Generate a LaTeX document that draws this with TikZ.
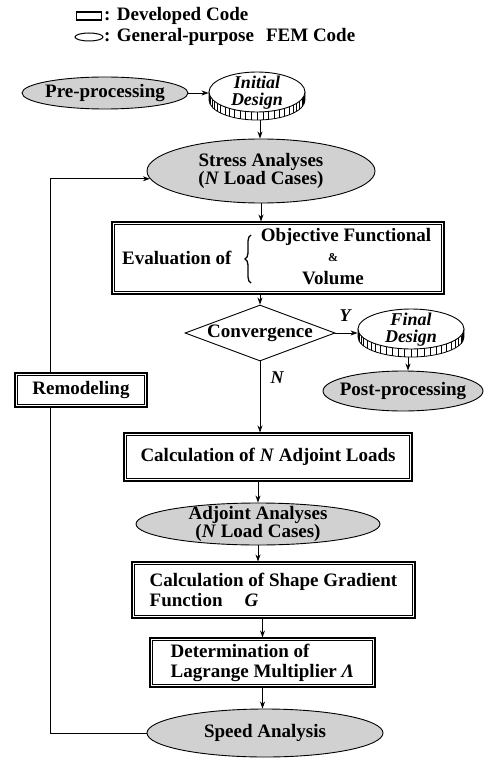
\documentclass[tikz,border=0pt]{standalone}
\usepackage{fontspec}
\setmainfont{Liberation Serif}
\usetikzlibrary{shapes.geometric,arrows.meta,decorations.pathreplacing}
\newcommand{\coinband}[5]{%
  \begin{scope}[shift={(#1,#2)}]
    \draw[line width=0.8pt, fill=white] (-#3,0) -- (-#3,#5) arc[start angle=180, end angle=360, x radius=#3pt, y radius=#4pt] -- (#3,0) -- cycle;
    \foreach \ang in {186,193,...,355} \draw[line width=0.6pt] ({#3*cos(\ang)},{-#4*sin(\ang)}) -- ({#3*cos(\ang)},{-#4*sin(\ang)+#5});
  \end{scope}}
\newcommand{\devinner}[1]{\draw[line width=0.6pt] ([shift={(3,3)}]#1.north west) rectangle ([shift={(-3,-3)}]#1.south east);}
\begin{document}
\begin{tikzpicture}[x=1pt,y=-1pt,
  every node/.style={font=\fontsize{19}{20}\selectfont\bfseries},
  fem/.style={ellipse, draw, fill=black!18, inner sep=0pt, line width=0.9pt},
  dev/.style={rectangle, draw, line width=1.1pt, inner sep=0pt},
  coin/.style={ellipse, draw, fill=white, inner sep=0pt, line width=0.9pt},
  diam/.style={diamond, draw, inner sep=0pt, line width=0.9pt},
  txt/.style={align=center, inner sep=0pt, font=\fontsize{19}{17}\selectfont\bfseries},
  itxt/.style={align=center, inner sep=0pt, font=\fontsize{18}{17}\selectfont\bfseries\itshape},
  arr/.style={-{Stealth[length=7pt,width=5pt]}, line width=0.8pt},
  ln/.style={line width=0.8pt},
]
\useasboundingbox (0,0) rectangle (483,762);

% legend
\node[draw, line width=1.2pt, minimum width=25pt, minimum height=8pt, inner sep=0pt] (legdev) at (89,16) {};
\node[anchor=west, inner sep=0pt] (legdevtxt) at (104,16) {: Developed Code};
\node[ellipse, draw, line width=1pt, minimum width=28pt, minimum height=8pt, inner sep=0pt] (legfem) at (89,37) {};
\node[anchor=west, inner sep=0pt] (legfemtxt) at (104,37) {: General-purpose\hspace{12pt}FEM Code};

% top row
\node[fem, minimum width=166pt, minimum height=32pt] (pre) at (105,93) {};
\node[txt] (pretxt) at (pre) {Pre-processing};
\coinband{257}{92}{48}{20}{8}
\node[coin, minimum width=96pt, minimum height=40pt] (init) at (257,92) {};
\node[itxt] (inittxt) at (257,93) {Initial\\Design};
\draw[arr] (pre.east) -- (pre.east -| init.west);

% stress
\node[fem, minimum width=228pt, minimum height=64pt] (stress) at (261,171) {};
\node[txt] (stresstxt) at (stress) {Stress Analyses\\(\textit{N} Load Cases)};
\coordinate (initbot) at (260,120);
\draw[arr] (initbot) -- (initbot |- stress.north);

% evaluation
\node[dev, minimum width=332pt, minimum height=72pt] (eval) at (278,258) {};
\devinner{eval}
\node[txt, anchor=west] (evaltxt) at (122,258) {Evaluation of};
\draw[line width=1.3pt, decorate, decoration={brace, amplitude=6pt}] (251,283) -- (251,235);
\node[txt] (evalobj) at (346,237) {Objective Functional};
\node[txt, font=\fontsize{12}{12}\selectfont\bfseries] (evalamp) at (333,258) {\&};
\node[txt] (evalvol) at (333,278) {Volume};
\draw[arr] (stress.south) -- (stress.south |- eval.north);

% convergence
\node[diam, minimum width=150pt, minimum height=56pt] (conv) at (260,333) {};
\node[txt] (convtxt) at (conv) {Convergence};
\draw[arr] (eval.south -| conv.north) -- (conv.north);

% final design
\coinband{411}{329}{53}{20}{8}
\node[coin, minimum width=106pt, minimum height=40pt] (fin) at (411,329) {};
\node[itxt] (fintxt) at (411,330) {Final\\Design};
\draw[arr] (conv.east) -- (conv.east -| fin.west);
\node[itxt] (ylab) at (345,316) {Y};

\node[fem, minimum width=160pt, minimum height=40pt] (post) at (403,391) {};
\node[txt] (posttxt) at (post) {Post-processing};
\coordinate (finbot) at (408,357);
\draw[arr] (finbot) -- (finbot |- post.north);

% N branch
\node[dev, minimum width=288pt, minimum height=48pt] (calcn) at (268,457) {Calculation of \textit{N} Adjoint Loads};
\devinner{calcn}
\draw[arr] (conv.south) -- (conv.south |- calcn.north);
\node[itxt] (nlab) at (277,378) {N};

% remodeling
\node[dev, minimum width=132pt, minimum height=34pt] (remod) at (81,390) {Remodeling};
\devinner{remod}

% adjoint
\node[fem, minimum width=244pt, minimum height=42pt] (adj) at (258,524) {};
\node[txt] (adjtxt) at (adj) {Adjoint Analyses\\(\textit{N} Load Cases)};
\draw[arr] (adj.north |- calcn.south) -- (adj.north);

% shape gradient
\node[dev, minimum width=283pt, minimum height=56pt, align=left] (shape) at (273.5,590) {Calculation of Shape Gradient\\Function\hspace{22pt}\textit{G}};
\devinner{shape}
\draw[arr] (adj.south) -- (adj.south |- shape.north);

% lagrange
\node[dev, minimum width=225pt, minimum height=49pt, align=left] (det) at (262.5,662.5) {Determination of\\Lagrange Multiplier \textit{Λ}};
\devinner{det}
\draw[arr] (det.north |- shape.south) -- (det.north);

% speed
\node[fem, minimum width=236pt, minimum height=48pt] (speed) at (265,733) {};
\node[txt] (speedtxt) at (speed) {Speed Analysis};
\draw[arr] (det.south) -- (det.south |- speed.north);

% feedback loop
\coordinate (fbx) at (50,0);
\draw[ln] (speed.west) -- (speed.west -| fbx) -- (remod.south -| fbx);
\draw[arr] (remod.north -| fbx) -- (fbx |- stress.184) -- (stress.184);
\end{tikzpicture}
\end{document}
